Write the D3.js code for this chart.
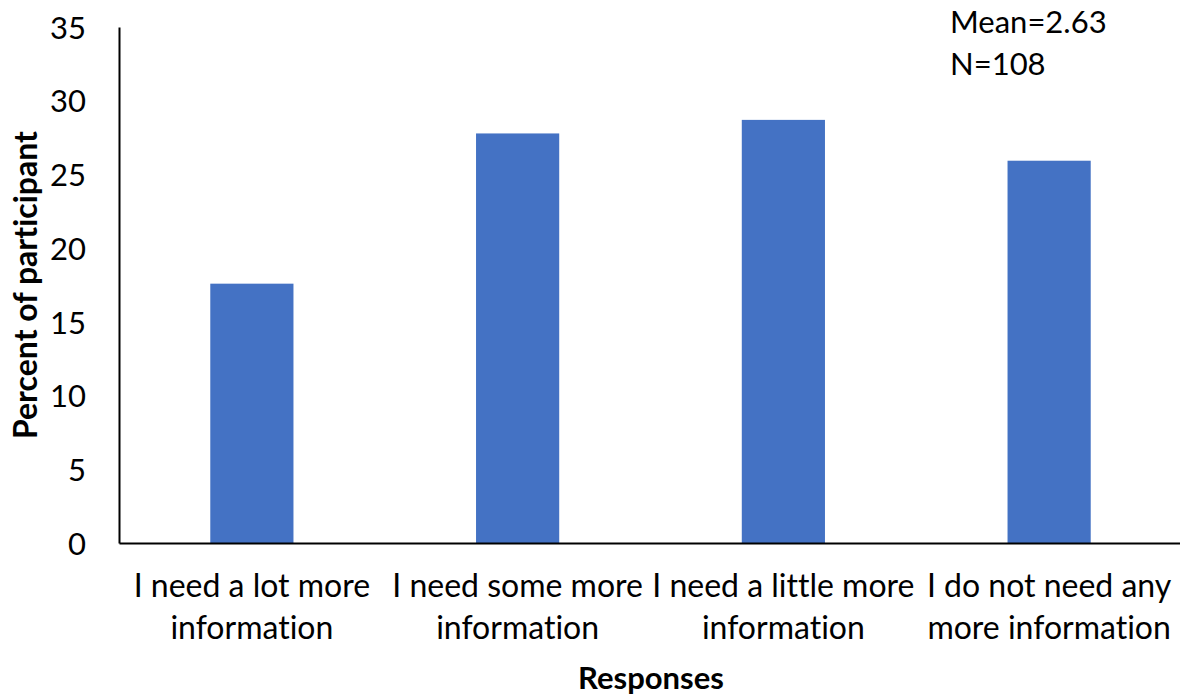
<!DOCTYPE html>
<html>
<head>
<meta charset="utf-8">
<script src="https://cdn.jsdelivr.net/npm/d3@7"></script>
<style>
  body { margin: 0; background: #fff; }
  text { font-family: Lato, "Open Sans", sans-serif; fill: #000; font-variant-ligatures: none; }
</style>
</head>
<body>
<div id="chart"></div>
<script>
var categories = [
  ["I need a lot more", "information"],
  ["I need some more", "information"],
  ["I need a little more", "information"],
  ["I do not need any", "more information"]
];
var percents = [17.59, 27.78, 28.70, 25.93];
var yTicks = [0, 5, 10, 15, 20, 25, 30, 35];
var notes = ["Mean=2.63", "N=108"];

var svgWidth = 1180;
var svgHeight = 696;

var margin = { top: 27, right: -2, bottom: 153, left: 119 };
var width = svgWidth - margin.left - margin.right;
var height = svgHeight - margin.top - margin.bottom;

var svg = d3.select("#chart")
  .append("svg")
  .attr("width", svgWidth)
  .attr("height", svgHeight);

var chartGroup = svg.append("g")
  .attr("transform", `translate(${margin.left}, ${margin.top})`);

var xBand = d3.scaleBand()
  .domain(d3.range(categories.length))
  .range([0, width])
  .paddingInner(0.687)
  .paddingOuter(0.3435);

var yLinearScale = d3.scaleLinear()
  .domain([0, 35])
  .range([height, 0]);

// bars
chartGroup.selectAll("rect.bar")
  .data(percents)
  .enter()
  .append("rect")
  .attr("class", "bar")
  .attr("x", (d, i) => xBand(i))
  .attr("width", xBand.bandwidth())
  .attr("y", d => yLinearScale(d))
  .attr("height", d => height - yLinearScale(d))
  .attr("fill", "#4472C4");

// y axis
var leftAxis = d3.axisLeft(yLinearScale)
  .tickValues(yTicks)
  .tickSize(0)
  .tickPadding(33);

var yAxis = chartGroup.append("g").call(leftAxis);
yAxis.select(".domain").attr("stroke", "#000").attr("stroke-width", 2);
yAxis.selectAll("text")
  .style("font-size", "31px")
  .attr("dy", "0.36em");

// x axis
var bottomAxis = d3.axisBottom(xBand).tickSize(0).tickFormat("");
var xAxis = chartGroup.append("g")
  .attr("transform", `translate(0, ${height})`)
  .call(bottomAxis);
xAxis.select(".domain").attr("stroke", "#000").attr("stroke-width", 2);

// category labels, two lines each
var catLabels = chartGroup.selectAll("text.cat")
  .data(categories)
  .enter()
  .append("text")
  .attr("class", "cat")
  .attr("text-anchor", "middle")
  .style("font-size", "32px");

catLabels.selectAll("tspan")
  .data((d, i) => d.map(line => ({ line: line, i: i })))
  .enter()
  .append("tspan")
  .attr("x", d => xBand(d.i) + xBand.bandwidth() / 2)
  .attr("y", (d, j) => height + 54 + j * 42)
  .text(d => d.line);

// axis titles
svg.append("text")
  .attr("text-anchor", "middle")
  .attr("transform", `translate(37, ${margin.top + height / 2}) rotate(-90)`)
  .style("font-size", "32px")
  .style("font-weight", "bold")
  .text("Percent of participant");

svg.append("text")
  .attr("x", 651)
  .attr("y", 689)
  .attr("text-anchor", "middle")
  .style("font-size", "31px")
  .style("font-weight", "bold")
  .text("Responses");

// mean / N note
svg.selectAll("text.note")
  .data(notes)
  .enter()
  .append("text")
  .attr("class", "note")
  .attr("x", 950)
  .attr("y", (d, i) => 33 + i * 42)
  .style("font-size", "31px")
  .text(d => d);
</script>
</body>
</html>
